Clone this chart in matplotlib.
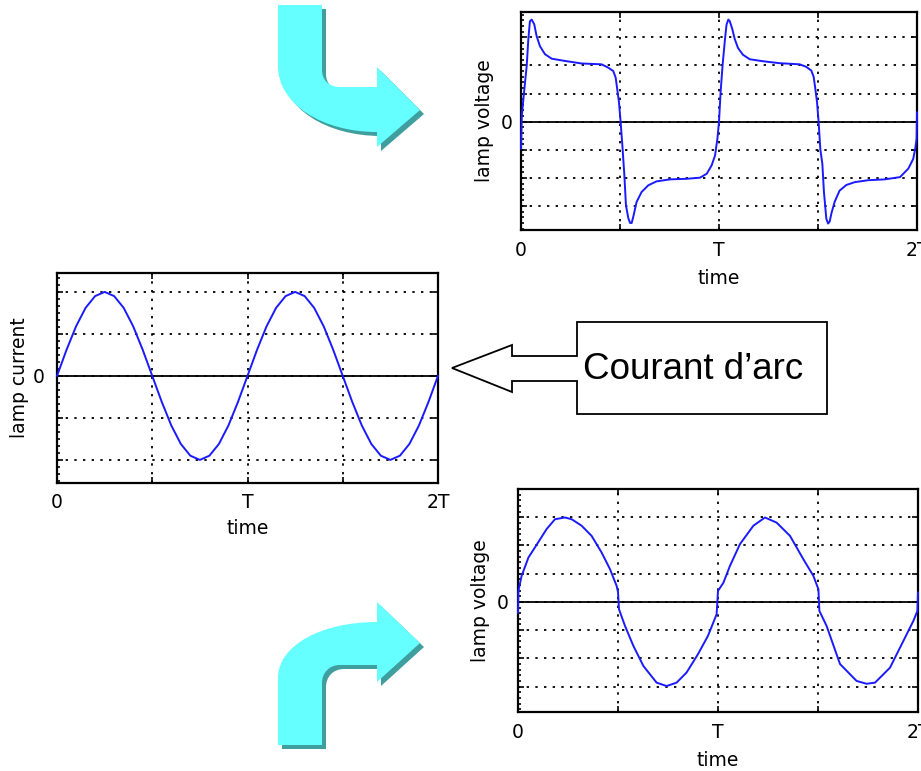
import numpy as np
import matplotlib
matplotlib.use("Agg")
import matplotlib.pyplot as plt
from matplotlib.path import Path
from matplotlib.patches import PathPatch, Polygon
from matplotlib.transforms import Affine2D
from matplotlib.ticker import MultipleLocator

# ---------------- data ----------------
# top chart: lamp voltage with re-ignition peaks (time in units of T)
t_top = [0.000, 0.004, 0.012, 0.029, 0.037, 0.045, 0.054, 0.067, 0.079, 0.096,
         0.121, 0.155, 0.222, 0.306, 0.407, 0.441, 0.466, 0.478, 0.486, 0.495,
         0.503, 0.512, 0.522, 0.530, 0.542, 0.551, 0.559, 0.568, 0.584, 0.609,
         0.643, 0.685, 0.753, 0.837, 0.904, 0.938, 0.963, 0.980, 0.992, 1.000,
         1.008, 1.018, 1.030, 1.038, 1.047, 1.054, 1.067, 1.079, 1.096, 1.121,
         1.155, 1.222, 1.306, 1.407, 1.441, 1.466, 1.478, 1.486, 1.495, 1.503,
         1.512, 1.522, 1.530, 1.542, 1.551, 1.559, 1.568, 1.584, 1.609, 1.643,
         1.685, 1.753, 1.837, 1.914, 1.956, 1.981, 1.991, 1.998, 2.000]
v_top = [-0.95, 0.20, 0.80, 2.00, 2.93, 3.57, 3.63, 3.46, 3.04, 2.68,
         2.40, 2.24, 2.16, 2.07, 2.04, 1.92, 1.80, 1.57, 1.16, 0.68,
         0.00, -0.85, -1.90, -2.97, -3.43, -3.60, -3.60, -3.35, -2.85, -2.50,
         -2.26, -2.12, -2.05, -2.03, -1.99, -1.85, -1.55, -1.20, -0.60, 0.00,
         1.04, 2.00, 2.92, 3.45, 3.63, 3.58, 3.30, 2.95, 2.62, 2.38,
         2.22, 2.15, 2.08, 2.04, 1.95, 1.82, 1.60, 1.20, 0.70, 0.00,
         -1.00, -1.50, -2.50, -3.45, -3.62, -3.55, -3.25, -2.85, -2.45, -2.25,
         -2.15, -2.08, -2.05, -1.97, -1.67, -1.32, -0.96, -0.60, 0.33]

# middle chart: lamp current (sine), sampled every T/20
t_mid = np.linspace(0, 2, 41)
i_mid = [0.00, 0.62, 1.18, 1.62, 1.90, 2.00, 1.90, 1.62, 1.18, 0.62,
         0.00, -0.62, -1.18, -1.62, -1.90, -2.00, -1.90, -1.62, -1.18, -0.62,
         0.00, 0.62, 1.18, 1.62, 1.90, 2.00, 1.90, 1.62, 1.18, 0.62,
         0.00, -0.62, -1.18, -1.62, -1.90, -2.00, -1.90, -1.62, -1.18, -0.62,
         0.00]

# bottom chart: lamp voltage (nearly sinusoidal, small steps at zero crossings)
t_bot = [0.000, 0.002, 0.018, 0.052, 0.100, 0.143, 0.185, 0.235, 0.268, 0.318,
         0.368, 0.418, 0.460, 0.493, 0.500, 0.505, 0.535, 0.577, 0.627, 0.693,
         0.743, 0.793, 0.843, 0.900, 0.950, 0.993, 1.000, 1.027, 1.060, 1.110,
         1.177, 1.235, 1.293, 1.360, 1.427, 1.477, 1.502, 1.507, 1.543, 1.610,
         1.693, 1.743, 1.785, 1.860, 1.927, 1.977, 1.997, 2.000]
v_bot = [-0.38, 0.39, 0.92, 1.57, 2.10, 2.58, 2.93, 2.99, 2.93, 2.70,
         2.34, 1.75, 1.16, 0.57, 0.35, -0.26, -0.85, -1.56, -2.27, -2.86,
         -2.98, -2.86, -2.50, -1.85, -1.20, -0.44, 0.39, 0.68, 1.28, 2.05,
         2.70, 2.99, 2.81, 2.34, 1.51, 0.92, 0.45, -0.32, -0.85, -2.20,
         -2.80, -2.90, -2.86, -2.33, -1.38, -0.67, -0.32, 0.33]

x_ticks = [0, 0.5, 1, 1.5, 2]
x_ticklabels = ["0", "", "T", "", "2T"]
v_ticks = [-3, -2, -1, 0, 1, 2, 3]
v_ticklabels = ["", "", "", "0", "", "", ""]
i_ticks = [-2, -1, 0, 1, 2]
i_ticklabels = ["", "", "0", "", ""]

# ---------------- figure ----------------
W, H = 921, 771
fig = plt.figure(figsize=(W / 100, H / 100), dpi=100)
plt.rcParams['font.family'] = ['DejaVu Sans']
FS = 13.5
BLUE = "#1a1aff"


def px_axes(l, t, r, b):
    return fig.add_axes([l / W, 1 - b / H, (r - l) / W, (b - t) / H])


def style(ax, x, y, yticks, yticklabels, ylim, ylabel, minor, xpad, ypad,
          ylab_x, xlab_y):
    ax.plot(x, y, color=BLUE, lw=1.4, zorder=3, clip_on=False)
    ax.axhline(0, color="black", lw=1.3, zorder=2)
    ax.set_xlim(0, 2)
    ax.set_ylim(*ylim)
    ax.set_xticks(x_ticks)
    ax.set_xticklabels(x_ticklabels)
    ax.set_yticks(yticks)
    ax.set_yticklabels(yticklabels)
    ax.yaxis.set_minor_locator(MultipleLocator(minor))
    ax.grid(True, which="major", color="black", linestyle=(0, (1.3, 3.5)),
            lw=1.3)
    ax.tick_params(which="major", direction="in", length=4, width=1.2,
                   top=True, right=True, labelsize=FS)
    ax.tick_params(axis="x", pad=xpad)
    ax.tick_params(axis="y", pad=ypad)
    ax.tick_params(which="minor", direction="in", length=2.5, width=1.2,
                   left=True, right=False)
    for s in ax.spines.values():
        s.set_linewidth(1.6)
    ax.set_ylabel(ylabel, fontsize=FS)
    ax.yaxis.set_label_coords(ylab_x, 0.5)
    ax.yaxis.label.set_va("center")
    ax.set_xlabel("time", fontsize=FS)
    ax.xaxis.set_label_coords(0.5, xlab_y)
    ax.xaxis.label.set_va("center")


# top-right: voltage with peaks
ax1 = px_axes(521, 12, 917, 230)
style(ax1, t_top, v_top, v_ticks, v_ticklabels, (-3.85, 3.9), "lamp voltage",
      0.2, 8, 6, -37 / 396, -49 / 218)

# middle-left: current
ax2 = px_axes(57, 273, 438, 483)
style(ax2, t_mid, i_mid, i_ticks, i_ticklabels, (-2.55, 2.45), "lamp current",
      1 / 6, 7, 9, -37 / 381, -45 / 210)

# bottom-right: voltage sine-like
ax3 = px_axes(518, 489, 918, 712)
style(ax3, t_bot, v_bot, v_ticks, v_ticklabels, (-3.9, 4.0), "lamp voltage",
      0.2, 8, 7, -38 / 400, -48 / 223)

# ---------------- decorations in pixel coordinates (y downward) ----------------
pix = Affine2D().scale(1 / W, -1 / H).translate(0, 1) + fig.transFigure
CYAN = "#66ffff"
SHADOW = "#3f9e9e"

M, L, C, Z = Path.MOVETO, Path.LINETO, Path.CURVE4, Path.CLOSEPOLY


def down_arrow():
    verts = [(278, 5), (322, 5), (322, 70),
             (322, 80), (329, 87), (340, 87),
             (377, 87), (377, 67), (420, 110), (377, 147), (377, 132),
             (322, 132), (278, 104), (278, 66),
             (278, 5)]
    codes = [M, L, L, C, C, C, L, L, L, L, L, C, C, C, Z]
    return verts, codes


def up_arrow():
    verts = [(278, 745), (322, 745), (322, 683),
             (322, 673), (329, 665), (340, 665),
             (377, 665), (377, 682), (420, 643), (377, 602), (377, 622),
             (322, 622), (278, 645), (278, 678),
             (278, 745)]
    codes = [M, L, L, C, C, C, L, L, L, L, L, C, C, C, Z]
    return verts, codes


for maker in (down_arrow, up_arrow):
    verts, codes = maker()
    sh = [(x + 4, y + 4) for x, y in verts]
    fig.add_artist(PathPatch(Path(sh, codes), transform=pix, facecolor=SHADOW,
                             edgecolor="none", zorder=5))
    fig.add_artist(PathPatch(Path(verts, codes), transform=pix, facecolor=CYAN,
                             edgecolor="none", zorder=6))

# callout box with arrow
callout = [(577, 322), (827, 322), (827, 414), (577, 414), (577, 381),
           (512, 381), (512, 392), (452, 368), (512, 345), (512, 356),
           (577, 356)]
fig.add_artist(Polygon(callout, closed=True, transform=pix, facecolor="white",
                       edgecolor="black", lw=1.3, zorder=5))
fig.text(693 / W, 1 - 369 / H, "Courant d\u2019arc", fontsize=26.5,
         family=["Liberation Sans", "DejaVu Sans"], ha="center", va="center",
         zorder=7)

fig.savefig("out.png", dpi=100)
